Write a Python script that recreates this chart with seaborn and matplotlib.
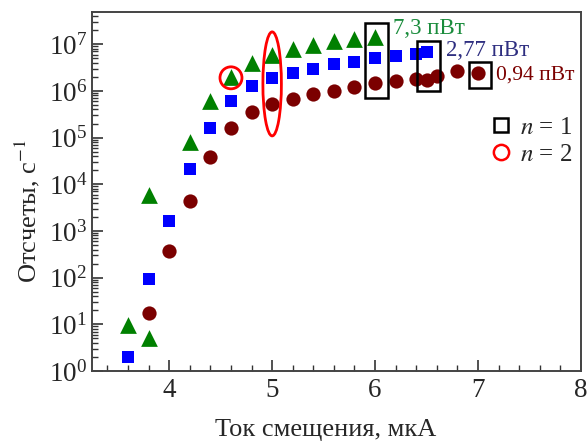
import numpy as np
import pandas as pd
import matplotlib
matplotlib.use("Agg")
import matplotlib.pyplot as plt
import seaborn as sns
from matplotlib.patches import Rectangle, Ellipse
from matplotlib.lines import Line2D
from matplotlib.ticker import MultipleLocator, LogLocator

# ---- data ----
x_tri = [3.6, 3.8, 3.8, 4.2, 4.4, 4.6, 4.8, 5.0, 5.2, 5.4, 5.6, 5.8, 6.0]
y_tri = [9.5, 5.0, 5.9e3, 8.1e4, 6.0e5, 2.0e6, 3.9e6, 5.9e6, 7.8e6, 9.5e6, 1.15e7, 1.3e7, 1.4e7]

x_sq = [3.6, 3.8, 4.0, 4.2, 4.4, 4.6, 4.8, 5.0, 5.2, 5.4, 5.6, 5.8, 6.0, 6.2, 6.4, 6.5]
y_sq = [2.0, 92, 1.6e3, 2.1e4, 1.6e5, 6.0e5, 1.26e6, 1.85e6, 2.4e6, 3.0e6, 3.7e6, 4.2e6, 5.0e6, 5.6e6, 6.3e6, 6.7e6]

x_ci = [3.8, 4.0, 4.2, 4.4, 4.6, 4.8, 5.0, 5.2, 5.4, 5.6, 5.8, 6.0, 6.2, 6.4, 6.5, 6.6, 6.8, 7.0]
y_ci = [17.7, 370, 4.4e3, 3.9e4, 1.6e5, 3.6e5, 5.2e5, 6.7e5, 8.4e5, 1.0e6, 1.2e6, 1.45e6, 1.66e6, 1.8e6, 1.7e6, 2.1e6, 2.7e6, 2.4e6]

power_labels = ["7,3 пВт", "2,77 пВт", "0,94 пВт"]
legend_labels = ["$n$ = 1", "$n$ = 2"]
xlabel = "Ток смещения, мкА"
ylabel = "Отсчеты, с$^{-1}$"
x_ticks = [4, 5, 6, 7, 8]

# ---- style ----
sns.set_style("ticks")
plt.rcParams['font.family'] = ['Liberation Serif', 'DejaVu Serif']
plt.rcParams['mathtext.fontset'] = 'stix'

c_tri = "#008000"
c_sq = "#0000ff"
c_ci = "#7b0000"

fig = plt.figure(figsize=(5.88, 4.41), dpi=100)
ax = fig.add_axes([0.1565, 0.1587, 0.8315, 0.8141])

df_t = pd.DataFrame({"x": x_tri, "y": y_tri})
df_s = pd.DataFrame({"x": x_sq, "y": y_sq})
df_c = pd.DataFrame({"x": x_ci, "y": y_ci})

sns.scatterplot(data=df_t, x="x", y="y", marker="^", s=145, color=c_tri, linewidth=0, ax=ax, zorder=3)
sns.scatterplot(data=df_s, x="x", y="y", marker="s", s=80, color=c_sq, linewidth=0, ax=ax, zorder=3)
sns.scatterplot(data=df_c, x="x", y="y", marker="o", s=105, color=c_ci, linewidth=0, ax=ax, zorder=3)

ax.set_yscale("log")
ax.set_xlim(3.25, 8)
ax.set_ylim(1, 10**7.69)
ax.set_xticks(x_ticks)
ax.xaxis.set_minor_locator(MultipleLocator(0.2))
ax.yaxis.set_major_locator(LogLocator(base=10, numticks=20))
ax.yaxis.set_minor_locator(LogLocator(base=10, subs=np.arange(2, 10), numticks=20))

ax.tick_params(axis="both", which="major", direction="in", length=8, width=1.2,
               labelsize=19.5, color="#333333", pad=3.5)
ax.tick_params(axis="both", which="minor", direction="in", length=4.5, width=1.0, color="#333333")
ax.tick_params(axis="x", pad=5)
for sp in ax.spines.values():
    sp.set_linewidth(1.4)
    sp.set_color("#444444")

ax.set_xlabel(xlabel, fontsize=19)
ax.set_ylabel(ylabel, fontsize=19)
ax.xaxis.set_label_coords(0.477, -0.135)
ax.yaxis.set_label_coords(-0.102, 0.446)

# ---- annotations: rectangles (n = 1) ----
rects = [(5.90, 6.13, 10**5.85, 10**7.46),
         (6.41, 6.63, 10**6.0, 10**7.07),
         (6.91, 7.13, 10**6.07, 10**6.61)]
for x0, x1, y0, y1 in rects:
    ax.add_patch(Rectangle((x0, y0), x1 - x0, y1 - y0, fill=False,
                           edgecolor="black", linewidth=1.8, zorder=4))

# ---- annotations: ellipses (n = 2), drawn in axes fraction ----
fig.canvas.draw()
to_axes = ax.transData + ax.transAxes.inverted()
bbox = ax.get_window_extent()
ell = [(4.6, 10**6.28, 22, 22), (5.0, 10**6.15, 18.5, 104)]
for xc, yc, wpx, hpx in ell:
    cx, cy = to_axes.transform((xc, yc))
    ax.add_patch(Ellipse((cx, cy), wpx / bbox.width, hpx / bbox.height,
                         transform=ax.transAxes, fill=False,
                         edgecolor="#ff0000", linewidth=2.0, zorder=4))

# ---- power labels ----
ax.text(6.17, 10**7.34, power_labels[0], color="#1a8c3c", fontsize=16.5, va="center", ha="left")
ax.text(6.69, 10**6.86, power_labels[1], color="#2e2e80", fontsize=16.5, va="center", ha="left")
ax.text(7.17, 10**6.34, power_labels[2], color="#7b0000", fontsize=15.5, va="center", ha="left")

# ---- legend ----
handles = [Line2D([], [], linestyle="none", marker="s", markersize=10,
                  markerfacecolor="none", markeredgecolor="black", markeredgewidth=1.8),
           Line2D([], [], linestyle="none", marker="o", markersize=11,
                  markerfacecolor="none", markeredgecolor="#ff0000", markeredgewidth=1.8)]
ax.legend(handles, legend_labels, loc="center left", bbox_to_anchor=(0.775, 0.64),
          frameon=False, fontsize=18, handletextpad=0.25, labelspacing=0.2,
          handlelength=1.0, borderpad=0.2)

fig.savefig("out.png", dpi=100)
